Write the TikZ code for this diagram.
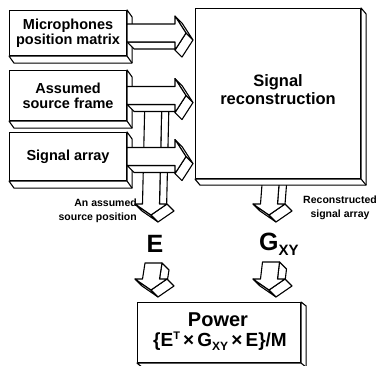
\documentclass[tikz,border=0pt]{standalone}
\usepackage{fontspec}
\setmainfont{Liberation Sans}
\usetikzlibrary{calc}
\newcommand\boxside[3]{%
  \draw[face] (#1.north east) -- ++(#2,#3) -- ([shift={(#2,#3)}]#1.south east)
    -- ([shift={(#2,#3)}]#1.south west) -- (#1.south west) -- (#1.south east) -- cycle;
  \draw[lw] (#1.south east) -- ++(#2,#3);
}
% one visible side face of an extruded arrow: quad P, Q, Q+d, P+d
\newcommand\sideface[2]{%
  \draw[face] (#1) -- (#2) -- ++(7,7) -- ($(#1)+(7,7)$) -- cycle;
}
% horizontal 3D block arrow from node #1 (east side) to node #2 (west side)
\newcommand\harrow[2]{%
  \coordinate (S) at (#1.east);
  \coordinate (T) at (#2.west |- #1.east);
  \coordinate (pA) at ($(S)+(0,-9)$);
  \coordinate (pB) at ($(T)+(-20,-9)$);
  \coordinate (pC) at ($(T)+(-20,-17)$);
  \coordinate (pD) at ($(T)+(-9,0)$);
  \coordinate (pE) at ($(T)+(-20,17)$);
  \coordinate (pF) at ($(T)+(-20,9)$);
  \coordinate (pG) at ($(S)+(0,9)$);
  \sideface{pF}{pG}
  \sideface{pC}{pD}
  \sideface{pD}{pE}
  \draw[face] (pA) -- (pB) -- (pC) -- (pD) -- (pE) -- (pF) -- (pG) -- cycle;
}
% vertical 3D block arrow from coordinate #1 (top centre) to coordinate #2 (tip)
\newcommand\varrow[2]{%
  \coordinate (S) at (#1);
  \coordinate (T) at (#2);
  \coordinate (pA) at ($(S)+(-8.5,0)$);
  \coordinate (pB) at ($(T)+(-8.5,-11)$);
  \coordinate (pC) at ($(T)+(-16,-11)$);
  \coordinate (pE) at ($(T)+(16,-11)$);
  \coordinate (pF) at ($(T)+(8.5,-11)$);
  \coordinate (pG) at ($(S)+(8.5,0)$);
  \sideface{pF}{pG}
  \sideface{pC}{T}
  \sideface{T}{pE}
  \draw[face] (pA) -- (pB) -- (pC) -- (T) -- (pE) -- (pF) -- (pG) -- cycle;
}
\begin{document}
\begin{tikzpicture}[x=1pt,y=-1pt,line join=round,
  lw/.style={line width=1.1pt},
  face/.style={draw,fill=white,line width=1.1pt},
  box/.style={draw,fill=white,line width=1.1pt,inner sep=0pt,align=center,anchor=north west},
  lbl/.style={inner sep=0pt,align=center,font=\fontsize{14.5}{15}\selectfont\bfseries},
  small/.style={inner sep=0pt,font=\fontsize{10.5}{13.5}\selectfont\bfseries},
  big/.style={inner sep=0pt,font=\fontsize{25}{25}\selectfont\bfseries},
]
\useasboundingbox (0,0) rectangle (380,366);
% named end points of the vertical arrows
\coordinate (e1s) at (153.5,95);
\coordinate (e1t) at (151,215);
\coordinate (g1s) at (271,178);
\coordinate (g1t) at (269,215);
\coordinate (e2s) at (153.5,263);
\coordinate (e2t) at (151,290);
\coordinate (g2s) at (271,262);
\coordinate (g2t) at (269,290);

% vertical arrows behind the horizontal ones / the big box
\varrow{e1s}{e1t}
\varrow{g1s}{g1t}

% left boxes
\node[box,minimum width=117pt,minimum height=45pt] (b1) at (9,10) {};
\boxside{b1}{5}{7}
\node[lbl] at (b1.center) {Microphones\\position matrix};
\node[box,minimum width=117pt,minimum height=50pt] (b2) at (9,70) {};
\boxside{b2}{5}{7}
\node[lbl] at (b2.center) {Assumed\\source frame};
\node[box,minimum width=117pt,minimum height=48pt] (b3) at (9,132) {};
\boxside{b3}{5}{7}
\node[lbl] at (b3.center) {Signal array};

% big box
\node[box,minimum width=165pt,minimum height=170pt] (rec) at (195,8) {};
\boxside{rec}{5}{6}
\node[lbl,font=\fontsize{16.5}{18}\selectfont\bfseries] at ([yshift=4pt]rec.center) {Signal\\reconstruction};

% horizontal arrows
\harrow{b1}{rec}
\harrow{b2}{rec}
\harrow{b3}{rec}

% labels
\node[small,align=right,anchor=east] (lab1) at (137,211) {An assumed\\source position};
\node[small,align=center] (lab2) at (340,208) {Reconstructed\\signal array};
\node[big] (E) at (155,244) {E};
\node[big,anchor=west] (G) at (259,244) {G\raisebox{-5pt}{\fontsize{15}{15}\selectfont XY}};

% lower arrows
\varrow{e2s}{e2t}
\varrow{g2s}{g2t}

% power box
\node[box,minimum width=163pt,minimum height=60pt] (pw) at (137,302) {};
\boxside{pw}{5}{4}
\node[inner sep=0pt,font=\fontsize{20}{20}\selectfont\bfseries] at (218,320) {Power};
\node[inner sep=0pt,font=\fontsize{19}{20}\selectfont\bfseries] at (220,341)
  {\{E\raisebox{7pt}{\fontsize{11}{11}\selectfont T}\,×\,G\raisebox{-4pt}{\fontsize{12}{12}\selectfont XY}\,×\,E\}/M};
\end{tikzpicture}
\end{document}
